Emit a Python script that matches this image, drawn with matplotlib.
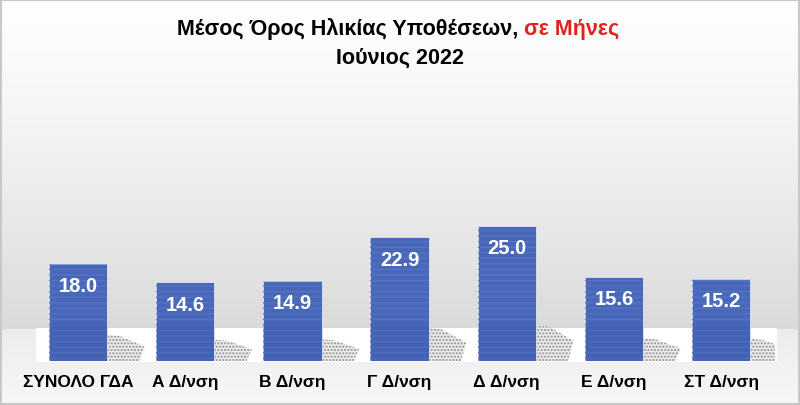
import matplotlib
matplotlib.use("Agg")
import matplotlib.pyplot as plt
import numpy as np
from matplotlib.patches import Rectangle, Polygon

categories = ["ΣΥΝΟΛΟ ΓΔΑ", "Α Δ/νση", "Β Δ/νση", "Γ Δ/νση", "Δ Δ/νση", "Ε Δ/νση", "ΣΤ Δ/νση"]
values = [18.0, 14.6, 14.9, 22.9, 25.0, 15.6, 15.2]
title_black = "Μέσος Όρος Ηλικίας Υποθέσεων, "
title_red = "σε Μήνες"
title_line2 = "Ιούνιος 2022"

FONT = ['Liberation Sans', 'DejaVu Sans']
W, H = 800, 406
fig = plt.figure(figsize=(W / 100, H / 100), dpi=100)

# background axes in pixel coords
bg = fig.add_axes([0, 0, 1, 1])
bg.set_xlim(0, W)
bg.set_ylim(H, 0)
bg.axis('off')
ys = np.arange(H)
top = 0.997 - (ys / 330.0) ** 1.3 * (0.997 - 0.855)
shade = np.where(ys < 330, top, 0.945 + (ys - 362) / 44.0 * 0.025)
shade = np.clip(shade, 0, 1)
img = np.repeat(shade[:, None], W, axis=1)
bg.imshow(np.dstack([img, img, img]), extent=(0, W, H, 0), aspect='auto', zorder=0)
# white floor band
bg.add_patch(Rectangle((36, 329), 741, 34, facecolor='white', edgecolor='none', zorder=1))
# frame
bg.add_patch(Rectangle((0.5, 0.5), W - 1.5, H - 1.5, facecolor='none', edgecolor='#c8c8c8', lw=1.5, zorder=2))

# main axes: bar bottom at y=362 px, 5.4 px per unit
px_per_unit = 5.4
ymax = 60
ax_h = px_per_unit * ymax / H
ax_bottom = (H - 362) / H
left_px = 78 - 107.2 * 0.5
ax = fig.add_axes([left_px / W, ax_bottom, 7 * 107.2 / W, ax_h])
ax.set_xlim(-0.5, 6.5)
ax.set_ylim(0, ymax)
ax.axis('off')
ax.patch.set_alpha(0)

x = np.arange(len(categories))
bw = 0.545
# shadows
for xi, v in zip(x, values):
    r = xi + bw / 2
    sh = 0.27 * v
    poly = Polygon([(r, 0), (r, sh), (r + 0.12, sh * 0.95), (r + 0.35, sh * 0.55), (r + 0.3, 0)],
                   closed=True, facecolor='#ececec', edgecolor='#8f8f8f', hatch='.....', lw=0, zorder=2)
    ax.add_patch(poly)

bars = ax.bar(x, values, width=bw, color='#4867b9', edgecolor='#dfe4ef', linewidth=0.6, zorder=3)
ax.bar(x, values, width=bw, color='none', edgecolor='#5473c2', hatch='---', linewidth=0, zorder=4)
# darker lower part
for xi, v in zip(x, values):
    ax.add_patch(Rectangle((xi - bw / 2, 0), bw, min(v, 7), facecolor='#34509c', alpha=0.2, lw=0, zorder=4))

for xi, v in zip(x, values):
    ax.text(xi, v - 22 / px_per_unit, f"{v:.1f}", ha='center', va='center', color='white',
            fontsize=14.5, fontweight='bold', family=FONT, zorder=5)
    ax.text(xi, -21 / px_per_unit, categories[int(xi)], ha='center', va='center',
            color='black', fontsize=12.5, fontweight='bold', family=FONT, zorder=5, clip_on=False)

# title
t1 = fig.text(0, 1 - 29 / H, title_black, ha='left', va='center', fontsize=15.5, fontweight='bold',
              family=FONT, color='black')
t2 = fig.text(0, 1 - 29 / H, title_red, ha='left', va='center', fontsize=15.5, fontweight='bold',
              family=FONT, color='#e2231a')
fig.canvas.draw()
r = fig.canvas.get_renderer()
w1 = t1.get_window_extent(r).width
w2 = t2.get_window_extent(r).width
start = 398.5 - (w1 + w2) / 2
t1.set_x(start / W)
t2.set_x((start + w1) / W)
fig.text(400 / W, 1 - 58 / H, title_line2, ha='center', va='center', fontsize=15.5, fontweight='bold',
         family=FONT, color='black')

fig.savefig('out.png', dpi=100)
